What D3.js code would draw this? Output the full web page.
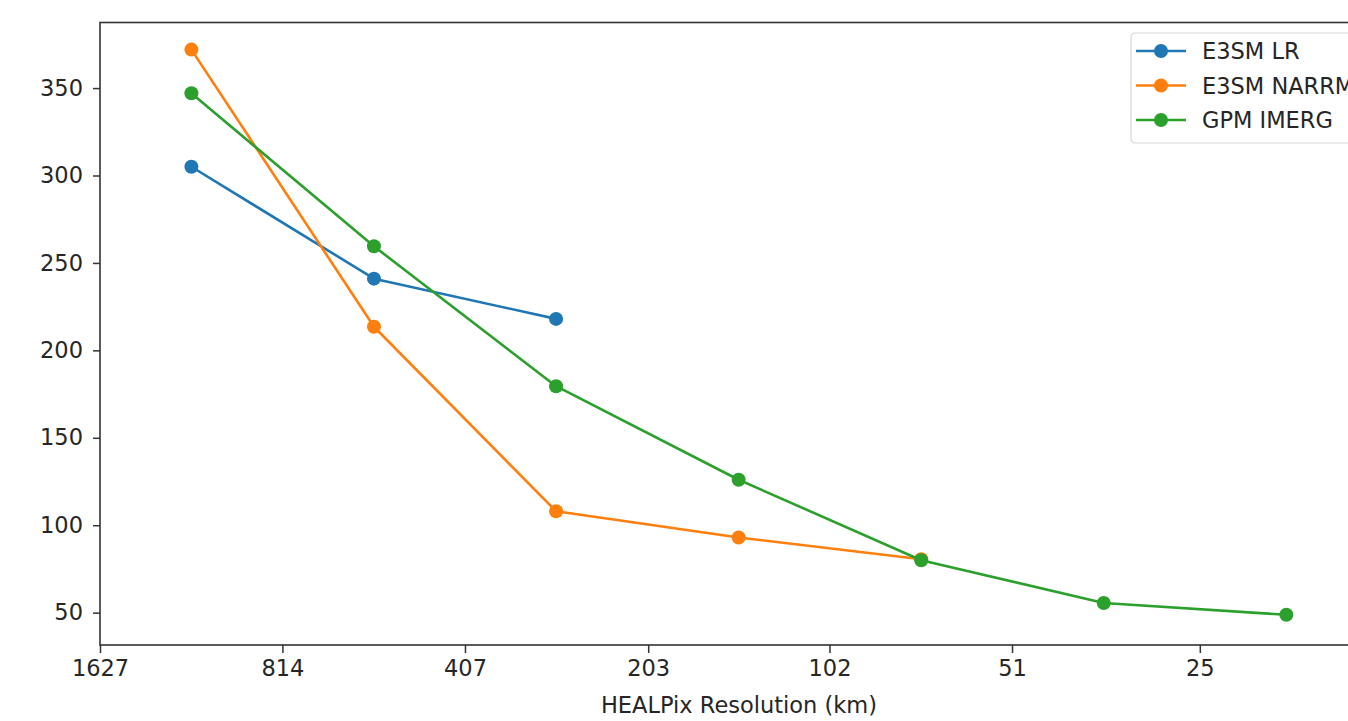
<!DOCTYPE html>
<html>
<head>
<meta charset="utf-8">
<script src="https://cdn.jsdelivr.net/npm/d3@7"></script>
<style>
  body { margin: 0; background: #fff; }
  svg { display: block; }
  text { font-family: "DejaVu Sans", sans-serif; fill: #262626; }
</style>
</head>
<body>
<div id="chart"></div>
<script>
// ============================
// Data
// ============================
const resolutions = [1150, 575, 288, 144, 72, 36, 18]; // km, point positions
const tickLabels = [1627, 814, 407, 203, 102, 51, 25];
const yTicks = [50, 100, 150, 200, 250, 300, 350];

const seriesNames = ["E3SM LR", "E3SM NARRM", "GPM IMERG"];
const e3smLR = [305, 241, 218];
const e3smNARRM = [372, 213.5, 108, 93, 80.5];
const gpmIMERG = [347, 259.5, 179.5, 126, 80, 55.5, 48.8];
const colors = ["#1f77b4", "#ff7f0e", "#2ca02c"];

const width = 1348;
const height = 721;
const fontSize = "22.5px";

// axes box (right edge falls outside the window, as in the picture)
const m = {left: 100, right: 1378, top: 22.5, bottom: 645};

function drawChart() {
  const svg = d3.select("#chart").append("svg")
    .attr("width", width)
    .attr("height", height);

  const xscale = d3.scaleLog().domain([1627, 12.71]).range([m.left, m.right]);
  const yscale = d3.scaleLinear().domain([31.5, 387.5]).range([m.bottom, m.top]);

  // ============================
  // Axes
  // ============================
  const xAxis = svg.append("g")
    .attr("transform", `translate(0,${m.bottom})`)
    .call(d3.axisBottom(xscale).tickValues(tickLabels).tickFormat(d => d).tickSize(8).tickPadding(7));

  const yAxis = svg.append("g")
    .attr("transform", `translate(${m.left},0)`)
    .call(d3.axisLeft(yscale).tickValues(yTicks).tickSize(7).tickPadding(10));

  [xAxis, yAxis].forEach(g => {
    g.select(".domain").remove();
    g.selectAll(".tick line").attr("stroke", "#333").attr("stroke-width", 1.5);
    g.selectAll(".tick text").style("font-size", fontSize).attr("fill", "#262626");
  });

  // spines
  svg.append("rect")
    .attr("x", m.left).attr("y", m.top)
    .attr("width", m.right - m.left).attr("height", m.bottom - m.top)
    .attr("fill", "none")
    .attr("stroke", "#333")
    .attr("stroke-width", 1.6);

  svg.append("text")
    .attr("x", (m.left + m.right) / 2)
    .attr("y", 713)
    .attr("text-anchor", "middle")
    .style("font-size", fontSize)
    .text("HEALPix Resolution (km)");

  // ============================
  // Lines and markers
  // ============================
  const allSeries = [e3smLR, e3smNARRM, gpmIMERG];

  const line = d3.line()
    .x((d, i) => xscale(resolutions[i]))
    .y(d => yscale(d));

  allSeries.forEach((vals, s) => {
    svg.append("path")
      .datum(vals)
      .attr("d", line)
      .attr("fill", "none")
      .attr("stroke", colors[s])
      .attr("stroke-width", 2.6)
      .attr("stroke-linejoin", "round");

    svg.append("g")
      .selectAll("circle")
      .data(vals)
      .join("circle")
      .attr("cx", (d, i) => xscale(resolutions[i]))
      .attr("cy", d => yscale(d))
      .attr("r", 7)
      .attr("fill", colors[s]);
  });

  // ============================
  // Legend
  // ============================
  const legend = svg.append("g").attr("transform", "translate(1131,33)");
  legend.append("rect")
    .attr("width", 260).attr("height", 110)
    .attr("rx", 4)
    .attr("fill", "#fff").attr("fill-opacity", 0.8)
    .attr("stroke", "#d6d6d6").attr("stroke-width", 1.2);

  seriesNames.forEach((name, s) => {
    const yy = 18 + s * 34.5;
    legend.append("line")
      .attr("x1", 5).attr("x2", 55).attr("y1", yy).attr("y2", yy)
      .attr("stroke", colors[s]).attr("stroke-width", 2.6);
    legend.append("circle")
      .attr("cx", 30).attr("cy", yy).attr("r", 7).attr("fill", colors[s]);
    legend.append("text")
      .attr("x", 71).attr("y", yy + 8)
      .style("font-size", fontSize)
      .text(name);
  });
}

drawChart();
</script>
</body>
</html>
